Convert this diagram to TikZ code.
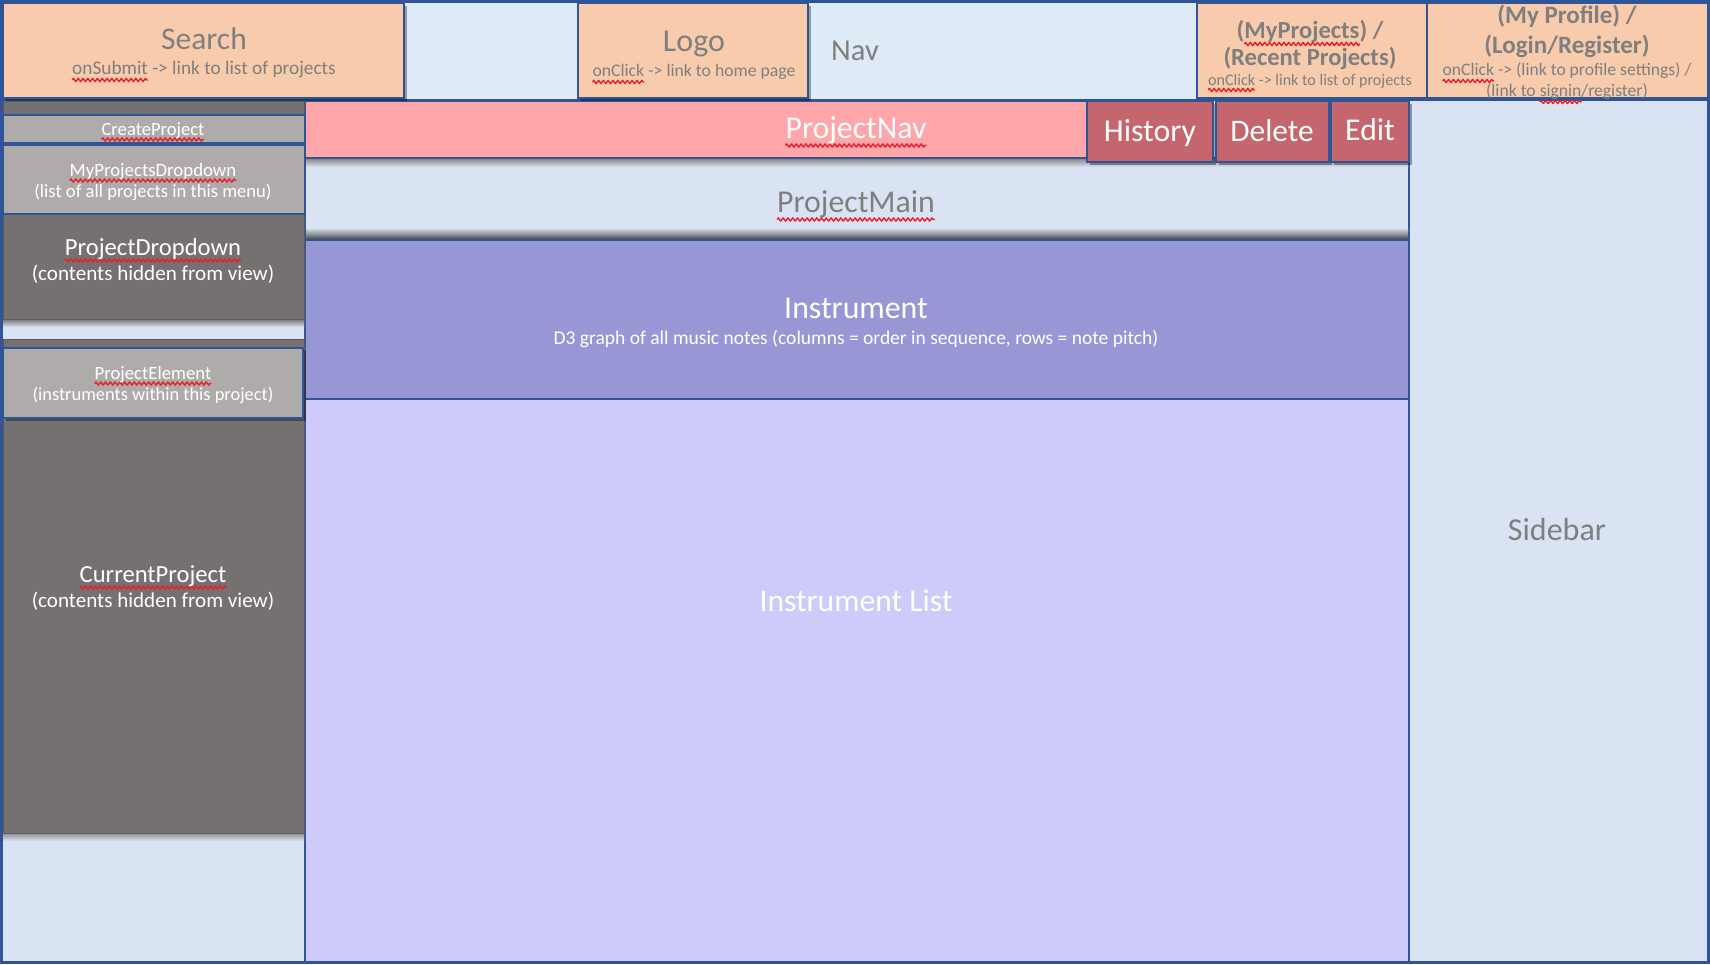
\documentclass[tikz,border=0pt]{standalone}
\usepackage{fontspec}
\setmainfont{Carlito}
\usetikzlibrary{shadows,decorations.pathmorphing}

\definecolor{edge}{HTML}{2F5597}
\definecolor{skyA}{HTML}{DEEAF6}
\definecolor{skyB}{HTML}{DAE3F3}
\definecolor{peach}{HTML}{F8CBAD}
\definecolor{rose}{HTML}{FFA6AB}
\definecolor{brick}{HTML}{C5656D}
\definecolor{slate}{HTML}{767171}
\definecolor{ash}{HTML}{AFABAB}
\definecolor{violet}{HTML}{9797D6}
\definecolor{lilac}{HTML}{CECBFB}
\definecolor{ink}{HTML}{7F7F7F}
\definecolor{spellred}{HTML}{E8202A}

% font size in px (1pt = 1px here)
\newcommand\fsz[1]{\fontsize{#1}{#1}\selectfont}
% red wavy spell-check underline below a word
\newlength\spellw
\newcommand\spell[2][5]{\settowidth\spellw{#2}%
  \rlap{\tikz[baseline=0pt,x=1pt,y=1pt]{\path (0pt,0pt);
    \draw[overlay, spellred, line width=1.4pt, line join=round, decorate,
      decoration={zigzag, amplitude=1.6pt, segment length=4.8pt}]
      (0pt,-#1pt) -- (\spellw,-#1pt);}}#2}

\begin{document}
\begin{tikzpicture}[x=1pt,y=-1pt,
  pane/.style={draw=edge, line width=2pt, anchor=north west, inner sep=0pt, outer sep=0pt},
  panel/.style={anchor=north west, inner sep=0pt, outer sep=0pt},
  shadowed/.style={drop shadow={shadow xshift=3pt, shadow yshift=-3pt, opacity=0.35, fill=black}},
  gtxt/.style={text=ink, anchor=base, inner sep=0pt},
  wtxt/.style={text=white, anchor=base, inner sep=0pt},
]
\useasboundingbox (0,0) rectangle (1710,964);

% ---- page background and main regions ----
\node[pane, fill=skyA, minimum width=1710pt, minimum height=100pt] (nav) at (0,0) {};
\node[pane, fill=skyB, minimum width=300pt, minimum height=863pt] (sidebar) at (1409,100) {};
\node[pane, fill=skyB, minimum width=304pt, minimum height=863pt] (leftcol) at (1,100) {};

% ---- main project column ----
\node[pane, fill=skyB, minimum width=1104pt, minimum height=82pt] (projmain) at (305,158) {};
\shade[top color=skyB, bottom color=black!70] (306,228) rectangle (1408,239);
\node[pane, fill=lilac, minimum width=1104pt, minimum height=564pt] (instlist) at (305,399) {};
\node[pane, fill=violet, minimum width=1104pt, minimum height=159pt] (instrument) at (305,240) {};
\shade[top color=black!45, bottom color=skyB] (306,159) rectangle (1408,167);
\node[pane, fill=rose, minimum width=782pt, minimum height=57pt] (projnav) at (305,101) {};
\node[pane, shadowed, fill=brick, minimum width=126pt, minimum height=61pt] (history) at (1087,101) {};
\node[pane, shadowed, fill=brick, minimum width=113pt, minimum height=61pt] (delete) at (1216,101) {};
\node[pane, shadowed, fill=brick, minimum width=78pt, minimum height=61pt] (edit) at (1331,101) {};

% ---- left column ----
\shade[top color=black!55, bottom color=skyB] (3,319) rectangle (304,327);
\node[panel, fill=slate, draw=slate!80!black, line width=1pt, minimum width=301pt, minimum height=218pt] (projdrop) at (3,101) {};
\shade[top color=black!45, bottom color=skyB] (3,833) rectangle (304,841);
\node[panel, fill=slate, draw=slate!80!black, line width=1pt, minimum width=301pt, minimum height=494pt] (currproj) at (3,339) {};
\node[pane, fill=ash, minimum width=302pt, minimum height=28pt] (createproj) at (3,115) {};
\node[pane, fill=ash, minimum width=302pt, minimum height=69pt] (myprojdrop) at (3,145) {};
\node[pane, shadowed, fill=ash, minimum width=300pt, minimum height=70pt] (projelem) at (3,348) {};

% ---- header boxes ----
\node[pane, shadowed, fill=peach, minimum width=401pt, minimum height=95pt] (search) at (3,3) {};
\node[pane, shadowed, fill=peach, minimum width=230pt, minimum height=95pt] (logo) at (578,3) {};
\node[pane, fill=peach, minimum width=230pt, minimum height=95pt] (myprojects) at (1197,3) {};
\node[pane, fill=peach, minimum width=281pt, minimum height=95pt] (myprofile) at (1427,3) {};

% outer frame
\draw[edge, line width=3pt] (1.5,1.5) rectangle (1708.5,962.5);

% ---- header texts ----
\node[gtxt, font=\fsz{31.5}] (searchT) at (204,49) {Search};
\node[gtxt, font=\fsz{19.3}] (searchS) at (204,74) {\spell[6]{onSubmit} -> link to list of projects};
\node[gtxt, font=\fsz{32}] (logoT) at (694,51) {Logo};
\node[gtxt, font=\fsz{17.7}] (logoS) at (694,76) {\spell[6]{onClick} -> link to home page};
\node[gtxt, font=\fsz{30.5}, anchor=base west] (navT) at (831,60) {Nav};
\node[gtxt, font=\bfseries\fsz{24.6}] (myprojT1) at (1310,38) {(\spell[6]{MyProjects}) /};
\node[gtxt, font=\bfseries\fsz{24.6}] (myprojT2) at (1310,65) {(Recent Projects)};
\node[gtxt, font=\fsz{16.1}] (myprojS) at (1310,85) {\spell[5]{onClick} -> link to list of projects};
\node[gtxt, font=\bfseries\fsz{25}] (myprofT1) at (1567,23) {(My Profile) /};
\node[gtxt, font=\bfseries\fsz{25}] (myprofT2) at (1567,53) {(Login/Register)};
\node[gtxt, font=\fsz{17.6}] (myprofS1) at (1567,75) {\spell[6]{onClick} -> (link to profile settings) /};
\node[gtxt, font=\fsz{17.6}] (myprofS2) at (1567,96) {(link to \spell[6]{signin}/register)};

% ---- left column texts ----
\node[wtxt, font=\fsz{18.6}] (createT) at (153,135) {\spell[4.5]{CreateProject}};
\node[wtxt, font=\fsz{18.8}] (myprojdropT) at (153,176) {\spell[4.5]{MyProjectsDropdown}};
\node[wtxt, font=\fsz{18.6}] (myprojdropS) at (153,197) {(list of all projects in this menu)};
\node[wtxt, font=\fsz{24.6}] (projdropT) at (153,255) {\spell[5.5]{ProjectDropdown}};
\node[wtxt, font=\fsz{21.1}] (projdropS) at (153,280) {(contents hidden from view)};
\node[wtxt, font=\fsz{18.7}] (projelemT) at (153,379) {\spell[4.5]{ProjectElement}};
\node[wtxt, font=\fsz{18.4}] (projelemS) at (153,400) {(instruments within this project)};
\node[wtxt, font=\fsz{24.6}] (currprojT) at (153,582) {\spell[5.5]{CurrentProject}};
\node[wtxt, font=\fsz{21.1}] (currprojS) at (153,607) {(contents hidden from view)};

% ---- main column texts ----
\node[wtxt, font=\fsz{31.8}] (projnavT) at (856,138) {\spell[7.5]{ProjectNav}};
\node[wtxt, font=\fsz{31.9}] (historyT) at (1150,141) {History};
\node[wtxt, font=\fsz{31.4}] (deleteT) at (1272,141) {Delete};
\node[wtxt, font=\fsz{31.7}] (editT) at (1370,140) {Edit};
\node[gtxt, font=\fsz{31.8}] (projmainT) at (856,212) {\spell[7.5]{ProjectMain}};
\node[wtxt, font=\fsz{31.8}] (instrumentT) at (856,318) {Instrument};
\node[wtxt, font=\fsz{19.5}] (instrumentS) at (856,344) {D3 graph of all music notes (columns = order in sequence, rows = note pitch)};
\node[wtxt, font=\fsz{31.6}] (instlistT) at (856,611) {Instrument List};
\node[gtxt, font=\fsz{32}] (sidebarT) at (1557,540) {Sidebar};
\end{tikzpicture}
\end{document}
